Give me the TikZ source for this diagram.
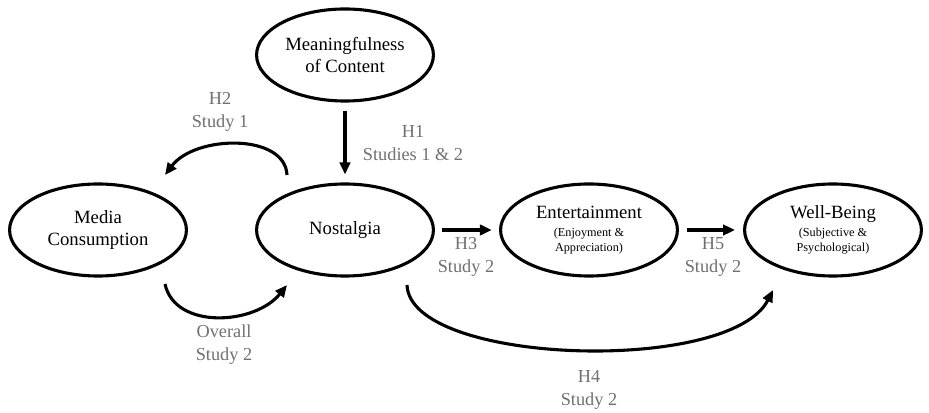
\documentclass[tikz,border=0pt]{standalone}
\usepackage{fontspec}
\setmainfont{Liberation Serif}
\usetikzlibrary{arrows.meta,shapes.geometric}
\definecolor{labelgray}{RGB}{112,112,112}
\newcommand{\subfont}{\fontsize{8.7}{10}\selectfont}

\begin{document}
\begin{tikzpicture}[x=0.025cm,y=-0.025cm,
  construct/.style={draw,ellipse,line width=2.2pt,inner sep=0pt,
    minimum width=4.42cm,minimum height=2.3cm,align=center,
    font=\fontsize{13.3}{15.3}\selectfont},
  hyp/.style={align=center,text=labelgray,inner sep=0pt,
    font=\fontsize{13}{16.3}\selectfont},
  path/.style={line width=2.2pt,-{Triangle[length=0.3cm,width=0.26cm]}}]
\useasboundingbox (0,0) rectangle (929,413);

% Constructs
\node[construct] (mean) at (345,55) {Meaningfulness\\of Content};
\node[construct] (media) at (98,230) {Media\\Consumption};
\node[construct] (nost) at (345,230) {Nostalgia};
\node[construct] (ent) at (589,230) {Entertainment\\[-2.7pt]{\subfont (Enjoyment \&}\\[-4.9pt]{\subfont Appreciation)}};
\node[construct] (well) at (833,230) {Well-Being\\[-2.7pt]{\subfont (Subjective \&}\\[-4.9pt]{\subfont Psychological)}};

% Straight paths
\draw[path,shorten <=0.2cm,shorten >=0.2cm] (mean) -- (nost);
\draw[path,shorten <=0.18cm,shorten >=0.18cm] (nost) -- (ent);
\draw[path,shorten <=0.2cm,shorten >=0.2cm] (ent) -- (well);

% Curved paths
\coordinate (h2s) at (287,175);
\coordinate (h2e) at (165,175);
\draw[path] (h2s) .. controls (285,133) and (195,135) .. (h2e);
\coordinate (ovs) at (165,284);
\coordinate (ove) at (287,285);
\draw[path] (ovs) .. controls (175,330) and (255,325) .. (ove);
\coordinate (h4s) at (407,285);
\coordinate (h4e) at (773,290);
\draw[path] (h4s) .. controls (410,365) and (730,375) .. (h4e);

% Hypothesis labels
\node[hyp] (h1lab) at (413,143) {H1\\Studies 1 \& 2};
\node[hyp] (h2lab) at (220,112) {H2\\Study 1};
\node[hyp] (ovlab) at (224,345) {Overall\\Study 2};
\node[hyp] (h3lab) at (466,257) {H3\\Study 2};
\node[hyp] (h5lab) at (713,257) {H5\\Study 2};
\node[hyp] (h4lab) at (589,390) {H4\\Study 2};

\end{tikzpicture}
\end{document}
